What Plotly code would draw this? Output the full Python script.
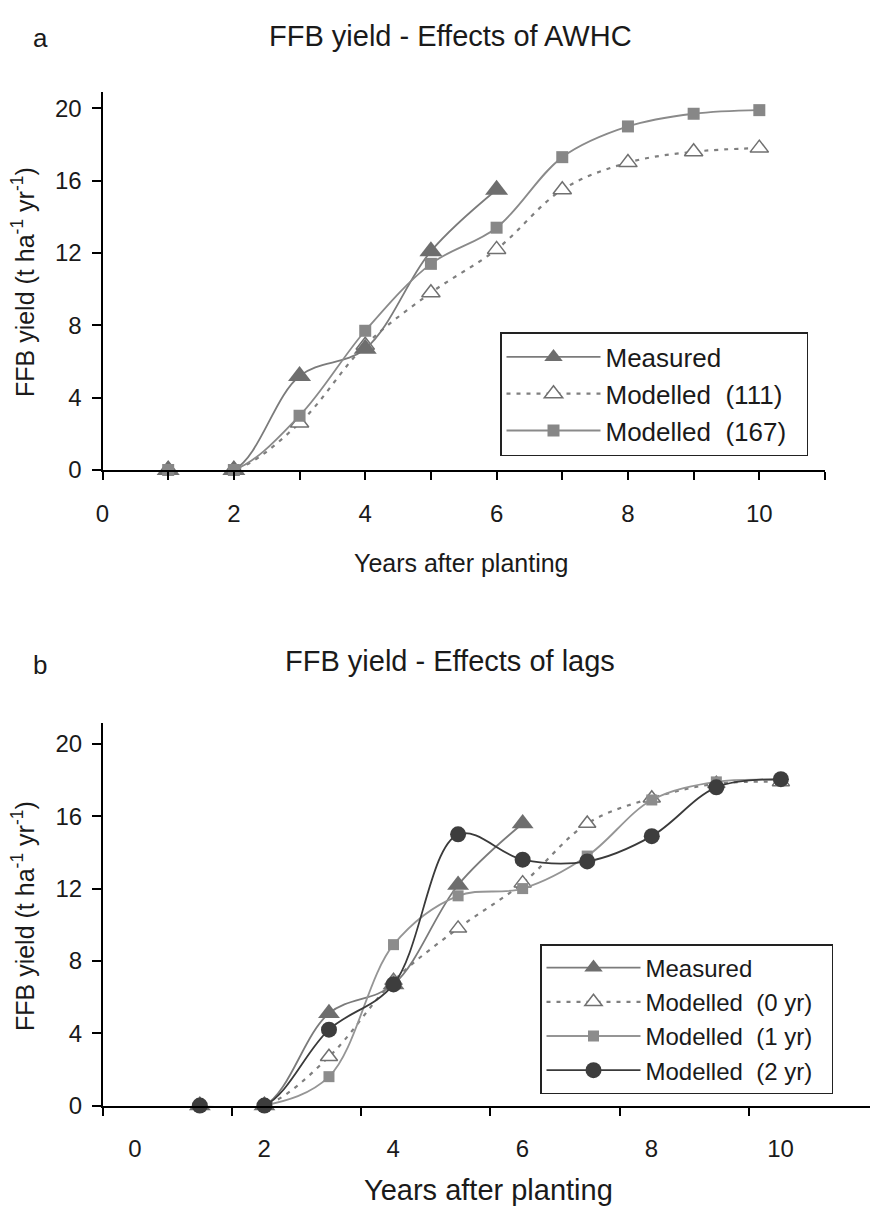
import plotly.graph_objects as go

# ---------------- data ----------------
years = [1, 2, 3, 4, 5, 6, 7, 8, 9, 10]
years_measured = [1, 2, 3, 4, 5, 6]

# panel a: effects of AWHC
a_measured = [0, 0, 5.2, 6.7, 12.1, 15.5]
a_mod111 = [0, 0, 2.6, 6.9, 9.8, 12.2, 15.5, 17.0, 17.6, 17.8]
a_mod167 = [0, 0, 3.0, 7.7, 11.4, 13.4, 17.3, 19.0, 19.7, 19.9]

# panel b: effects of lags
b_measured = [0, 0, 5.1, 6.7, 12.2, 15.6]
b_mod0 = [0, 0, 2.7, 6.9, 9.8, 12.3, 15.6, 17.0, 17.8, 17.9]
b_mod1 = [0, 0, 1.6, 8.9, 11.6, 12.0, 13.8, 16.9, 17.9, 18.0]
b_mod2 = [0, 0, 4.2, 6.7, 15.0, 13.6, 13.5, 14.9, 17.6, 18.05]

y_ticks = [0, 4, 8, 12, 16, 20]
x_labels = [0, 2, 4, 6, 8, 10]

# ---------------- geometry helpers ----------------
W, H = 870, 1208
def px(x):
    return x / W
def py(y):
    return 1 - y / H

FONT = "Liberation Sans, Arial, sans-serif"
TXT = "#1a1a1a"
NB = "\u00a0"

fig = go.Figure()

def line_trace(x, y, name, xa, ya, legend, rank, lcolor, lwidth, dash, symbol, msize, mcolor, mline):
    return go.Scatter(
        x=x, y=y, name=name, xaxis=xa, yaxis=ya, legend=legend, legendrank=rank,
        mode="lines+markers", cliponaxis=False,
        line=dict(color=lcolor, width=lwidth, dash=dash, shape="spline", smoothing=1),
        marker=dict(symbol=symbol, size=msize, color=mcolor,
                    line=dict(color=mline, width=1.5 if mcolor == "white" else 0)),
    )

# panel a (drawing order: modelled 111, measured, modelled 167)
fig.add_trace(line_trace(years, a_mod111, "Modelled  (111)" + NB * 2, "x", "y", "legend", 2,
                         "#7f7f7f", 2.2, "4px,6px", "triangle-up", 16, "white", "#707070"))
fig.add_trace(line_trace(years_measured, a_measured, "Measured", "x", "y", "legend", 1,
                         "#7b7b7b", 1.8, "solid", "triangle-up", 20, "#6e6e6e", "#6e6e6e"))
fig.add_trace(line_trace(years, a_mod167, "Modelled  (167)" + NB * 2, "x", "y", "legend", 3,
                         "#8a8a8a", 1.8, "solid", "square", 12, "#878787", "#878787"))

# panel b
fig.add_trace(line_trace(years, b_mod0, "Modelled  (0 yr)" + NB * 2, "x2", "y2", "legend2", 2,
                         "#7f7f7f", 2.2, "4px,6px", "triangle-up", 15, "white", "#707070"))
fig.add_trace(line_trace(years_measured, b_measured, "Measured", "x2", "y2", "legend2", 1,
                         "#7b7b7b", 1.8, "solid", "triangle-up", 19, "#6e6e6e", "#6e6e6e"))
fig.add_trace(line_trace(years, b_mod1, "Modelled  (1 yr)" + NB * 2, "x2", "y2", "legend2", 3,
                         "#959595", 1.8, "solid", "square", 11, "#8c8c8c", "#8c8c8c"))
fig.add_trace(line_trace(years, b_mod2, "Modelled  (2 yr)" + NB * 2, "x2", "y2", "legend2", 4,
                         "#3a3a3a", 1.8, "solid", "circle", 16, "#3d3d3d", "#3d3d3d"))

axis_common = dict(showline=True, linecolor="black", linewidth=2, showgrid=False,
                   zeroline=False, ticks="outside", tickcolor="black", tickwidth=1.5,
                   automargin=False,
                   tickfont=dict(family=FONT, size=24, color=TXT))

fig.update_layout(
    template="none",
    width=W, height=H, autosize=False,
    margin=dict(l=0, r=0, t=0, b=0, pad=0),
    paper_bgcolor="white", plot_bgcolor="white",
    font=dict(family=FONT, color=TXT),
    xaxis=dict(axis_common, domain=[px(102.5), px(825)], range=[0, 11], anchor="y",
               tickmode="array", tickvals=x_labels, ticklen=8, ticklabelstandoff=13,
               minor=dict(ticks="outside", dtick=1, tick0=0, ticklen=8, tickcolor="black", tickwidth=1.5)),
    yaxis=dict(axis_common, domain=[py(470), py(91.7)], range=[0, 20.92], anchor="x",
               tickmode="array", tickvals=y_ticks, ticklen=9, ticklabelstandoff=5),
    xaxis2=dict(axis_common, domain=[px(103), 1.0], range=[-0.5, 11.38], anchor="y2",
                tickmode="array", tickvals=[v - 0.5 for v in x_labels],
                ticktext=[str(v) for v in x_labels], ticklen=8, ticklabelshift=32,
                ticklabelstandoff=13),
    yaxis2=dict(axis_common, domain=[py(1105.6), py(723.3)], range=[0, 21.14], anchor="x2",
                tickmode="array", tickvals=y_ticks, ticklen=9, ticklabelstandoff=5),
    legend=dict(x=px(500), y=py(332), xanchor="left", yanchor="top",
                bordercolor="#222", borderwidth=1.5, bgcolor="white",
                font=dict(family=FONT, size=26, color=TXT),
                itemwidth=94, tracegroupgap=0, itemclick=False, traceorder="normal"),
    legend2=dict(x=px(540), y=py(944), xanchor="left", yanchor="top",
                 bordercolor="#222", borderwidth=1.5, bgcolor="white",
                 font=dict(family=FONT, size=24, color=TXT),
                 itemwidth=94, tracegroupgap=0, itemclick=False, traceorder="normal"),
    showlegend=True,
)

annotations = [
    dict(text="a", x=40, y=38, size=26),
    dict(text="FFB yield - Effects of AWHC", x=450, y=36, size=29),
    dict(text="b", x=40, y=665, size=26),
    dict(text="FFB yield - Effects of lags", x=450, y=661, size=29),
    dict(text="Years after planting", x=462, y=563, size=25),
    dict(text="Years after planting", x=488, y=1190, size=29),
    dict(text="FFB yield (t ha<sup>-1</sup> yr<sup>-1</sup>)", x=23, y=282, size=25, angle=-90),
    dict(text="FFB yield (t ha<sup>-1</sup> yr<sup>-1</sup>)", x=23, y=916, size=25, angle=-90),
]
for a in annotations:
    fig.add_annotation(text=a["text"], x=px(a["x"]), y=py(a["y"]), xref="paper", yref="paper",
                       xanchor="center", yanchor="middle", showarrow=False,
                       textangle=a.get("angle", 0),
                       font=dict(family=FONT, size=a["size"], color=TXT))

fig.write_html("out.html", config={"displayModeBar": False},
               post_script="document.body.style.margin='0px';document.body.style.overflow='hidden';")
